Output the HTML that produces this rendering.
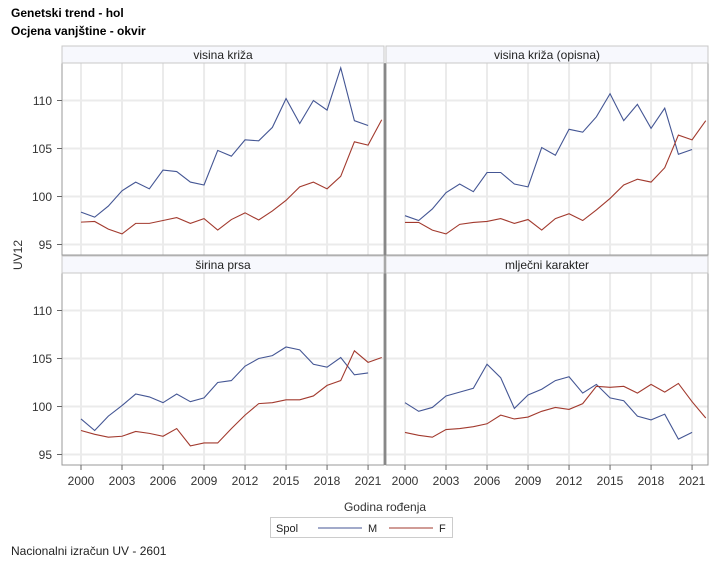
<!DOCTYPE html>
<html><head><meta charset="utf-8"><style>
body{margin:0;background:#fff;}
svg{display:block;font-family:"Liberation Sans",sans-serif;}
</style></head><body>
<svg id="s" width="718" height="567" xmlns="http://www.w3.org/2000/svg">
<rect width="718" height="567" fill="#fff"/>
<text x="11" y="17" font-size="12" font-weight="bold">Genetski trend - hol</text>
<text x="11" y="35" font-size="12" font-weight="bold">Ocjena vanjštine - okvir</text>
<g id="g"></g>
<rect x="62" y="46" width="322" height="17" fill="#f7f8fd" stroke="#c8c8c8"/>
<rect x="386" y="46" width="322" height="17" fill="#f7f8fd" stroke="#c8c8c8"/>
<rect x="62" y="256" width="322" height="17" fill="#f7f8fd" stroke="#c8c8c8"/>
<rect x="386" y="256" width="322" height="17" fill="#f7f8fd" stroke="#c8c8c8"/>
<g font-size="12" text-anchor="middle" fill="#222">
<text x="223" y="59">visina križa</text>
<text x="547" y="59">visina križa (opisna)</text>
<text x="223" y="269">širina prsa</text>
<text x="547" y="269">mlječni karakter</text>
</g>
<g font-size="12" text-anchor="end" fill="#333">
<text x="52" y="105">110</text><text x="52" y="153">105</text><text x="52" y="201">100</text><text x="52" y="249">95</text>
<text x="52" y="315">110</text><text x="52" y="363">105</text><text x="52" y="411">100</text><text x="52" y="459">95</text>
</g>
<g font-size="12" text-anchor="middle" fill="#333">
<text x="81" y="485">2000</text><text x="122" y="485">2003</text><text x="163" y="485">2006</text><text x="204" y="485">2009</text><text x="245" y="485">2012</text><text x="286" y="485">2015</text><text x="327" y="485">2018</text><text x="368" y="485">2021</text>
<text x="405" y="485">2000</text><text x="446" y="485">2003</text><text x="487" y="485">2006</text><text x="528" y="485">2009</text><text x="569" y="485">2012</text><text x="610" y="485">2015</text><text x="651" y="485">2018</text><text x="692" y="485">2021</text>
<text x="385" y="511">Godina rođenja</text>
</g>
<text transform="translate(22,255) rotate(-90)" font-size="12" text-anchor="middle" fill="#333">UV12</text>
<rect x="270.5" y="517.5" width="182" height="20" fill="#fff" stroke="#ccc"/>
<text x="276" y="532" font-size="11" fill="#222">Spol</text>
<line x1="318" y1="528" x2="362" y2="528" stroke="#445694"/>
<text x="368" y="532" font-size="11" fill="#222">M</text>
<line x1="389" y1="528" x2="433" y2="528" stroke="#a23a2e"/>
<text x="439" y="532" font-size="11" fill="#222">F</text>
<text x="11" y="555" font-size="12" fill="#222">Nacionalni izračun UV - 2601</text>
</svg>
<script>
var g=document.getElementById('g'),NS='http://www.w3.org/2000/svg';
function el(t,a){var e=document.createElementNS(NS,t);for(var k in a)e.setAttribute(k,a[k]);g.appendChild(e);}
var D=[
[62,63,255,[98.37,97.85,99,100.6,101.5,100.8,102.75,102.6,101.5,101.2,104.8,104.2,105.9,105.8,107.2,110.2,107.6,110,109,113.4,107.9,107.4],
[97.33,97.4,96.6,96.1,97.2,97.2,97.5,97.8,97.2,97.7,96.5,97.6,98.3,97.55,98.5,99.6,101,101.5,100.8,102.1,105.7,105.35,108]],
[386,63,255,[98,97.5,98.7,100.4,101.3,100.5,102.5,102.5,101.3,101,105.1,104.3,107,106.7,108.3,110.7,107.9,109.6,107.1,109.2,104.4,104.9],
[97.3,97.3,96.5,96.1,97.1,97.3,97.4,97.7,97.2,97.6,96.5,97.7,98.2,97.5,98.6,99.8,101.2,101.8,101.5,103,106.4,105.9,107.9]],
[62,273,465,[98.7,97.5,99,100.1,101.3,101,100.4,101.3,100.5,100.9,102.5,102.7,104.2,105,105.3,106.2,105.9,104.4,104.1,105.1,103.3,103.5],
[97.5,97.1,96.8,96.9,97.4,97.2,96.9,97.7,95.9,96.2,96.2,97.7,99.1,100.3,100.4,100.7,100.7,101.1,102.2,102.7,105.8,104.6,105.1]],
[386,273,465,[100.4,99.5,99.9,101.1,101.5,101.9,104.4,103,99.8,101.2,101.8,102.7,103.1,101.4,102.3,100.9,100.6,99,98.6,99.2,96.6,97.3],
[97.3,97,96.8,97.6,97.7,97.9,98.2,99.1,98.7,98.9,99.5,99.9,99.7,100.3,102.1,102,102.1,101.4,102.3,101.5,102.4,100.5,98.8]]];
D.forEach(function(p){
 var x0=p[0],top=p[1],bot=p[2],y95=bot-10.5;
 function X(i){return x0+19+i*13.67;} function Y(v){return y95-(v-95)*9.6;}
 for(var v=95;v<=110;v+=5)el('line',{x1:x0,x2:x0+322,y1:Y(v),y2:Y(v),stroke:'#ebebeb','stroke-width':2});
 for(var i=0;i<=21;i+=3)el('line',{x1:X(i),x2:X(i),y1:top,y2:bot,stroke:'#ebebeb','stroke-width':2});
 [[p[3],'#445694'],[p[4],'#a23a2e']].forEach(function(s){
  el('polyline',{points:s[0].map(function(v,i){return X(i)+','+Y(v);}).join(' '),fill:'none',stroke:s[1],'stroke-width':1.1});
 });
 el('rect',{x:x0,y:top,width:322,height:bot-top,fill:'none',stroke:'#999'});
 if(x0==62)for(var v=95;v<=110;v+=5)el('line',{x1:57,x2:62,y1:Y(v),y2:Y(v),stroke:'#666'});
 if(bot==465)for(var i=0;i<=21;i+=3)el('line',{x1:X(i),x2:X(i),y1:465,y2:470,stroke:'#666'});
});
el('line',{x1:385,x2:385,y1:63,y2:465,stroke:'#888','stroke-width':2});
</script>
</body></html>
